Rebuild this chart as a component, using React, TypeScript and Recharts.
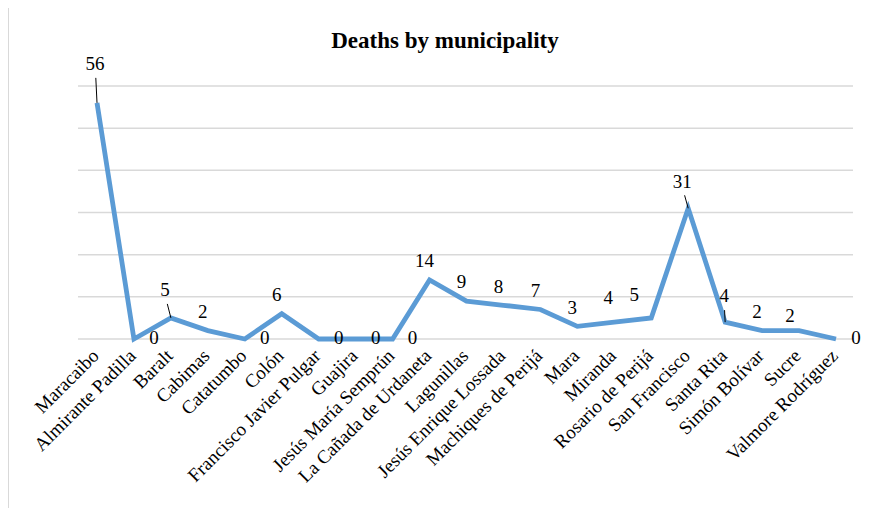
import { LineChart, Line, XAxis, YAxis, CartesianGrid, LabelList } from "recharts"

const municipalities = [
  "Maracaibo",
  "Almirante Padilla",
  "Baralt",
  "Cabimas",
  "Catatumbo",
  "Colón",
  "Francisco Javier Pulgar",
  "Guajira",
  "Jesús María Semprún",
  "La Cañada de Urdaneta",
  "Lagunillas",
  "Jesús Enrique Lossada",
  "Machiques de Perijá",
  "Mara",
  "Miranda",
  "Rosario de Perijá",
  "San Francisco",
  "Santa Rita",
  "Simón Bolívar",
  "Sucre",
  "Valmore Rodríguez",
]

const deaths = [56, 0, 5, 2, 0, 6, 0, 0, 0, 14, 9, 8, 7, 3, 4, 5, 31, 4, 2, 2, 0]

const yTicks = [0, 10, 20, 30, 40, 50, 60]

const data = municipalities.map((name, i) => ({ name, deaths: deaths[i] }))

const FONT = "Liberation Serif"

// labels pulled away from the line get a short leader back to the point
const leaders: Record<number, { dx: number; dy: number }> = {
  0: { dx: -2, dy: -37 },
  2: { dx: -6, dy: -26 },
  16: { dx: -6, dy: -25 },
  17: { dx: -1, dy: -24 },
}

const nudges: Record<number, { dx: number; dy: number }> = {
  14: { dx: -6, dy: -22 },
  15: { dx: -17, dy: -21 },
  19: { dx: -9, dy: -13 },
}

function ValueLabel(props: any) {
  const { x, y, value, index } = props
  let dx = -5
  let dy = -17
  if (value === 0) {
    dx = 20
    dy = 1
  }
  const lead = leaders[index]
  const nudge = nudges[index]
  if (lead) {
    dx = lead.dx
    dy = lead.dy
  } else if (nudge) {
    dx = nudge.dx
    dy = nudge.dy
  }
  return (
    <g>
      {lead && (
        <line x1={x} y1={y} x2={x + dx * 0.6} y2={y + dy + 12} stroke="#000" strokeWidth={1} />
      )}
      <text
        x={x + dx}
        y={y + dy}
        textAnchor="middle"
        dominantBaseline="middle"
        fontFamily={FONT}
        fontSize={19}
        fill="#000"
      >
        {value}
      </text>
    </g>
  )
}

function MunicipalityTick(props: any) {
  const { x, y, payload } = props
  const ax = x + 3
  const ay = y + 10
  return (
    <text
      x={ax}
      y={ay}
      textAnchor="end"
      transform={`rotate(-45 ${ax} ${ay})`}
      fontFamily={FONT}
      fontSize={19}
      fill="#000"
    >
      {payload.value}
    </text>
  )
}

export default function App() {
  return (
    <div style={{ position: "relative", width: 870, height: 516, margin: -8, background: "#fff" }}>
      <div
        style={{
          position: "absolute",
          left: 8,
          top: 6,
          right: 0,
          bottom: 0,
          borderLeft: "1.5px solid #d9d9d9",
          borderTop: "1.5px solid #d9d9d9",
        }}
      />
      <div
        style={{
          position: "absolute",
          top: 28,
          left: 0,
          width: 890,
          textAlign: "center",
          fontFamily: FONT,
          fontWeight: "bold",
          fontSize: 23,
          color: "#000",
        }}
      >
        Deaths by municipality
      </div>
      <div style={{ position: "absolute", left: 0, top: 0 }}>
        <LineChart
          width={870}
          height={516}
          data={data}
          margin={{ top: 86, right: 17, left: 78, bottom: 27 }}
        >
          <CartesianGrid vertical={false} stroke="#d9d9d9" strokeWidth={1.5} />
          <XAxis
            dataKey="name"
            interval={0}
            height={150}
            axisLine={false}
            tickLine={false}
            padding={{ left: 19, right: 17 }}
            tick={<MunicipalityTick />}
          />
          <YAxis hide domain={[0, 60]} ticks={yTicks} />
          <Line
            type="linear"
            dataKey="deaths"
            stroke="#5b9bd5"
            strokeWidth={4.8}
            dot={false}
            isAnimationActive={false}
          >
            <LabelList dataKey="deaths" content={<ValueLabel />} />
          </Line>
        </LineChart>
      </div>
    </div>
  )
}
